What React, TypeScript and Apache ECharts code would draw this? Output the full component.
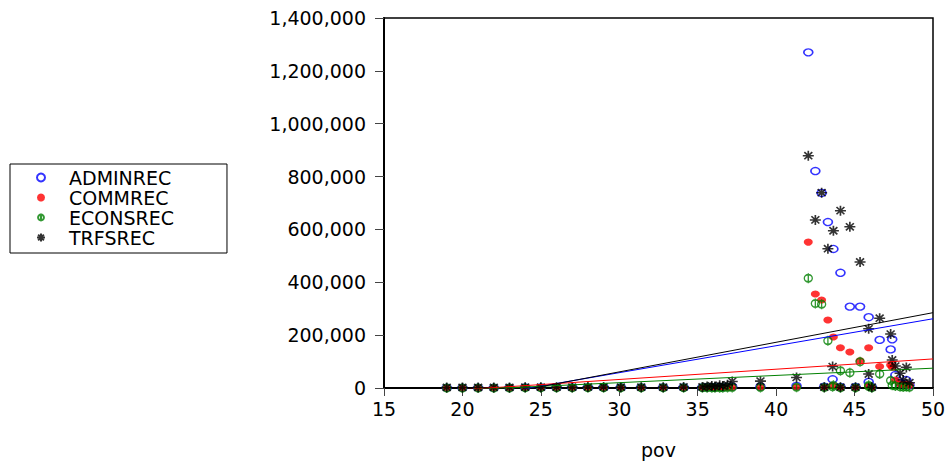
import React, { useEffect, useRef } from "react";
import * as echarts from "echarts";

const seriesNames = ["ADMINREC", "COMMREC", "ECONSREC", "TRFSREC"];

const pov = [
  19.0, 20.0, 21.0, 22.0, 23.0, 24.0, 25.0, 26.0, 27.0, 28.0, 29.0, 30.1, 31.4, 32.8, 34.1,
  35.3, 35.6, 35.9, 36.1, 36.4, 36.6, 36.9, 37.2, 39.0, 41.3,
  42.05, 42.5, 42.9, 43.3, 43.65, 43.6, 43.07, 44.1, 44.1, 44.7, 45.06, 45.35, 45.9, 45.9,
  46.1, 46.6, 47.3, 47.4, 47.6, 47.9, 48.1, 48.3, 48.5,
];

const adminrec = [
  1000, 1000, 1000, 1000, 1000, 2000, 2000, 2000, 2000, 2000, 2000, 2000, 2000, 2000, 2000,
  2000, 3000, 3000, 3000, 4000, 3000, 4000, 5000, 5000, 8000,
  1270000, 821000, 738000, 628000, 526000, 33000, 5000, 436000, 4000, 308000, 4000, 308000, 268000, 23000,
  3000, 182000, 146000, 184000, 49000, 20000, 15000, 30000, 10000,
];

const commrec = [
  500, 500, 500, 500, 500, 1000, 1000, 1000, 1000, 1000, 1000, 1000, 1000, 1000, 1000,
  1000, 2000, 2000, 2000, 2000, 2000, 2000, 3000, 3000, 4000,
  552000, 356000, 333000, 257000, 193000, 10000, 3000, 152000, 2000, 136000, 2000, 103000, 152000, 8000,
  2000, 81000, 87000, 79000, 30000, 15000, 12000, 14000, 10000,
];

const econsrec = [
  300, 300, 300, 300, 300, 500, 500, 500, 500, 1000, 1000, 1000, 1000, 1000, 1000,
  1000, 1000, 1000, 1000, 1000, 1000, 2000, 2000, 2000, 3000,
  415000, 320000, 317000, 179000, 10000, 5000, 2000, 65000, 1000, 58000, 1000, 99000, 10000, 6000,
  1000, 53000, 28000, 10000, 8000, 5000, 4000, 5000, 3000,
];

const trfsrec = [
  2000, 2000, 2000, 2000, 2000, 3000, 3000, 3000, 3000, 4000, 4000, 3000, 3000, 3000, 4000,
  4000, 6000, 8000, 6000, 10000, 8000, 12000, 25000, 26000, 40000,
  879000, 636000, 739000, 527000, 595000, 81000, 3000, 671000, 3000, 610000, 3000, 477000, 224000, 53000,
  3000, 264000, 204000, 106000, 83000, 56000, 30000, 78000, 20000,
];

// fitted regression lines, value at pov = 15 and pov = 50
const fitX = [15, 50];
const adminFit = [-95000, 262000];
const commFit = [-26000, 110000];
const econsFit = [-21000, 75000];
const trfsFit = [-107000, 285000];

const FONT = "DejaVu Sans";
const STAR = "path://M0,-5L0,5M-5,0L5,0M-3.6,-3.6L3.6,3.6M-3.6,3.6L3.6,-3.6";
const PHI = "path://M-4,0A4,4,0,1,1,4,0A4,4,0,1,1,-4,0ZM0,-5.5L0,5.5";

export default function App() {
  const ref = useRef<HTMLDivElement>(null);
  useEffect(() => {
    const chart = echarts.init(ref.current!, null, { renderer: "svg" });
    const pts = (vals: number[]) => pov.map((x, i) => [x, vals[i]]);
    const fit = (vals: number[]) => fitX.map((x, i) => [x, vals[i]]);
    const fitLine = (vals: number[], color: string) => ({
      type: "line",
      data: fit(vals),
      symbol: "none",
      silent: true,
      clip: true,
      z: 5,
      lineStyle: { color, width: 1 },
    });
    chart.setOption({
      animation: false,
      backgroundColor: "#ffffff",
      textStyle: { fontFamily: FONT },
      grid: {
        left: 384,
        right: 17,
        top: 18,
        bottom: 74,
        outerBoundsMode: "none",
        containLabel: false,
        show: true,
        borderColor: "#000",
        borderWidth: 1.5,
        backgroundColor: "transparent",
      },
      legend: {
        orient: "vertical",
        left: 10,
        top: 164,
        data: seriesNames,
        backgroundColor: "#fff",
        borderColor: "#000",
        borderWidth: 1,
        borderRadius: 0,
        padding: [4, 53, 6, 26],
        itemWidth: 46,
        itemHeight: 8,
        itemGap: 1,
        textStyle: { fontSize: 19, color: "#000", fontFamily: FONT, lineHeight: 19 },
      },
      xAxis: {
        type: "value",
        min: 15,
        max: 50,
        interval: 5,
        name: "pov",
        nameLocation: "middle",
        nameGap: 52,
        nameTextStyle: { fontSize: 19, color: "#000", fontFamily: FONT },
        axisLine: { show: true, onZero: false, lineStyle: { color: "#000", width: 2 } },
        axisTick: { show: true, inside: false, length: 8, lineStyle: { color: "#444", width: 1 } },
        axisLabel: { fontSize: 19, color: "#000", margin: 11, fontFamily: FONT },
        splitLine: { show: false },
      },
      yAxis: {
        type: "value",
        min: 0,
        max: 1400000,
        interval: 200000,
        axisLine: { show: true, lineStyle: { color: "#000", width: 2 } },
        axisTick: { show: true, inside: false, length: 9, lineStyle: { color: "#444", width: 1 } },
        axisLabel: {
          fontSize: 19,
          color: "#000",
          margin: 18,
          fontFamily: FONT,
          formatter: (v: number) => v.toLocaleString("en-US"),
        },
        splitLine: { show: false },
      },
      series: [
        {
          name: "ADMINREC",
          type: "scatter",
          data: pts(adminrec),
          symbol: "circle",
          symbolSize: [9, 7],
          itemStyle: { color: "transparent", borderColor: "#0000ff", borderWidth: 1.5 },
        },
        {
          name: "COMMREC",
          type: "scatter",
          data: pts(commrec),
          symbol: "circle",
          symbolSize: [9, 7],
          itemStyle: { color: "#ff0000" },
        },
        {
          name: "ECONSREC",
          type: "scatter",
          data: pts(econsrec),
          symbol: PHI,
          symbolSize: [8, 10],
          itemStyle: { color: "transparent", borderColor: "#008000", borderWidth: 1.5 },
        },
        {
          name: "TRFSREC",
          type: "scatter",
          data: pts(trfsrec),
          symbol: STAR,
          symbolSize: [11, 10],
          itemStyle: { color: "#000", borderColor: "#000", borderWidth: 1.6 },
        },
        fitLine(adminFit, "#0000ff"),
        fitLine(commFit, "#ff0000"),
        fitLine(econsFit, "#008000"),
        fitLine(trfsFit, "#000000"),
      ],
    });
    return () => chart.dispose();
  }, []);
  return (
    <div
      ref={ref}
      style={{ position: "fixed", left: 0, top: 0, width: 950, height: 462 }}
    />
  );
}
